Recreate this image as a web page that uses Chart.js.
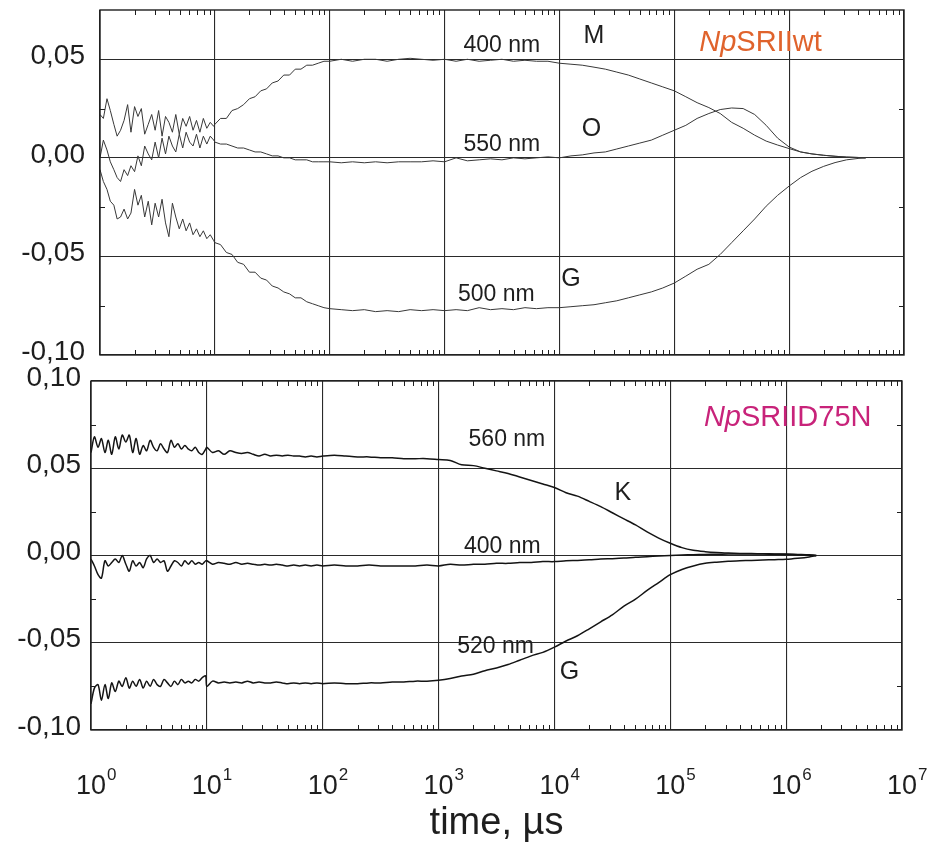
<!DOCTYPE html>
<html>
<head>
<meta charset="utf-8">
<script src="https://cdn.jsdelivr.net/npm/chart.js@4.4.1/dist/chart.umd.min.js"></script>
<style>
  html, body { margin: 0; padding: 0; background: #fff; }
  #wrap { position: relative; width: 929px; height: 843px; overflow: hidden; }
  canvas { position: absolute; left: 0; }
  #cTop { top: 0; }
  #cBot { top: 365px; }
</style>
</head>
<body>
<div id="wrap">
  <canvas id="cTop" width="929" height="365"></canvas>
  <canvas id="cBot" width="929" height="478"></canvas>
</div>
<script>
// Flash-photolysis transients, time in microseconds (log scale)
const timeTop = [1.00,1.07,1.15,1.23,1.32,1.41,1.51,1.62,1.74,1.86,2.00,2.14,2.29,2.45,2.63,2.82,3.02,3.24,3.47,3.72,3.98,4.27,4.57,4.90,5.25,5.62,6.03,6.46,6.92,7.41,7.94,8.51,9.12,9.77,
  10.0,11.2,12.6,14.1,15.8,17.8,20.0,22.4,25.1,28.2,31.6,35.5,39.8,44.7,50.1,56.2,63.1,70.8,79.4,89.1,
  100,126,158,200,251,316,398,501,631,794,1000,1260,1580,2000,2510,3160,3980,5010,6310,7940,
  1e4,1.26e4,1.58e4,2e4,2.51e4,3.16e4,3.98e4,5.01e4,6.31e4,7.94e4,
  1e5,1.26e5,1.58e5,2e5,2.51e5,3.16e5,3.98e5,5.01e5,6.31e5,7.94e5,
  1e6,1.26e6,1.58e6,2e6,2.51e6,3.16e6,3.98e6,4.64e6];

const timeBottom = [1.00,1.07,1.15,1.23,1.32,1.41,1.51,1.62,1.74,1.86,2.00,2.14,2.29,2.45,2.63,2.82,3.02,3.24,3.47,3.72,3.98,4.27,4.57,4.90,5.25,5.62,6.03,6.46,6.92,7.41,7.94,8.51,9.12,9.77,
  10.0,11.2,12.6,14.1,15.8,17.8,20.0,22.4,25.1,28.2,31.6,35.5,39.8,44.7,50.1,56.2,63.1,70.8,79.4,89.1,
  100,126,158,200,251,316,398,501,631,794,1000,1260,1580,2000,2510,3160,3980,5010,6310,7940,
  1e4,1.26e4,1.58e4,2e4,2.51e4,3.16e4,3.98e4,5.01e4,6.31e4,7.94e4,
  1e5,1.26e5,1.58e5,2e5,2.51e5,3.16e5,3.98e5,5.01e5,6.31e5,7.94e5,
  1e6,1.26e6,1.58e6,1.82e6];

// NpSRII wild type
const wt400 = [0.022,0.020,0.030,0.024,0.017,0.011,0.014,0.019,0.027,0.013,0.026,0.021,0.025,0.012,0.017,0.022,0.014,0.024,0.011,0.021,0.018,0.013,0.022,0.012,0.020,0.016,0.021,0.014,0.019,0.013,0.020,0.015,0.018,0.016,
  0.017,0.020,0.020,0.024,0.025,0.027,0.030,0.031,0.034,0.035,0.038,0.039,0.042,0.042,0.045,0.045,0.047,0.047,0.048,0.049,
  0.049,0.050,0.049,0.050,0.050,0.049,0.050,0.0505,0.050,0.0495,
  0.050,0.049,0.050,0.049,0.0495,0.050,0.049,0.0495,0.049,0.049,
  0.048,0.0475,0.047,0.046,0.045,0.0435,0.042,0.040,0.038,0.036,
  0.034,0.031,0.028,0.0255,0.0225,0.018,0.015,0.0115,0.0085,0.0065,
  0.0047,0.003,0.002,0.0013,0.0008,0.0004,0.0002,0];

const wt550 = [0.000,0.009,0.004,-0.002,-0.006,-0.010,-0.012,-0.006,-0.009,-0.004,-0.007,0.001,-0.004,0.006,0.002,-0.001,0.008,0.000,0.010,0.002,0.011,0.006,0.003,0.012,0.005,0.013,0.008,0.006,0.012,0.005,0.011,0.007,0.011,0.009,
  0.008,0.007,0.007,0.006,0.005,0.005,0.004,0.003,0.003,0.002,0.001,0.001,0.000,0.000,-0.001,-0.001,-0.001,-0.002,-0.002,-0.002,
  -0.002,-0.0025,-0.002,-0.0025,-0.002,-0.0025,-0.002,-0.002,-0.002,-0.0015,
  -0.002,0.000,-0.0015,-0.001,-0.0005,-0.001,0.000,-0.0005,0.000,0.0005,
  0.000,0.001,0.0015,0.0025,0.003,0.0045,0.006,0.0075,0.009,0.0115,
  0.014,0.0165,0.020,0.0225,0.0245,0.0253,0.025,0.022,0.0165,0.010,
  0.0055,0.003,0.002,0.0013,0.0008,0.0004,0.0002,0];

const wt500 = [-0.006,-0.012,-0.016,-0.022,-0.024,-0.031,-0.030,-0.026,-0.031,-0.028,-0.016,-0.024,-0.019,-0.030,-0.022,-0.034,-0.023,-0.030,-0.021,-0.033,-0.040,-0.023,-0.030,-0.036,-0.031,-0.037,-0.033,-0.039,-0.036,-0.040,-0.037,-0.041,-0.039,-0.042,
  -0.043,-0.044,-0.048,-0.049,-0.053,-0.054,-0.058,-0.058,-0.061,-0.062,-0.065,-0.066,-0.068,-0.069,-0.071,-0.071,-0.073,-0.074,-0.075,-0.076,
  -0.0765,-0.077,-0.0775,-0.077,-0.078,-0.0775,-0.078,-0.077,-0.0775,-0.077,
  -0.0775,-0.077,-0.0775,-0.076,-0.077,-0.0765,-0.077,-0.076,-0.0765,-0.076,
  -0.076,-0.0755,-0.075,-0.0745,-0.0735,-0.0725,-0.071,-0.0695,-0.068,-0.066,
  -0.0635,-0.060,-0.0565,-0.054,-0.049,-0.043,-0.037,-0.031,-0.0245,-0.019,
  -0.0143,-0.010,-0.0068,-0.0043,-0.0024,-0.001,-0.0003,0];

// NpSRII D75N mutant
const d75n560 = [0.059,0.068,0.062,0.067,0.059,0.066,0.058,0.068,0.061,0.069,0.065,0.069,0.059,0.067,0.058,0.063,0.060,0.066,0.062,0.060,0.064,0.061,0.059,0.066,0.062,0.064,0.061,0.063,0.061,0.060,0.062,0.059,0.058,0.061,
  0.062,0.059,0.060,0.058,0.060,0.059,0.0585,0.059,0.058,0.057,0.058,0.057,0.0575,0.057,0.0575,0.057,0.057,0.0565,0.057,0.0565,
  0.057,0.0575,0.057,0.0565,0.0565,0.056,0.056,0.0555,0.0555,0.0555,
  0.055,0.0545,0.052,0.0515,0.050,0.0485,0.047,0.045,0.043,0.041,
  0.039,0.036,0.034,0.031,0.028,0.0245,0.021,0.0175,0.0135,0.010,
  0.007,0.0045,0.003,0.0022,0.0017,0.0014,0.0012,0.0011,0.001,0.0009,
  0.0008,0.0006,0.0004,0];

const d75n400 = [-0.002,-0.006,-0.011,-0.013,-0.003,-0.006,-0.004,-0.002,-0.004,0.000,-0.005,-0.009,-0.003,-0.006,-0.004,-0.007,-0.002,0.000,-0.004,-0.002,-0.004,-0.003,-0.009,-0.006,-0.003,-0.004,-0.006,-0.003,-0.005,-0.003,-0.005,-0.004,-0.005,-0.003,
  -0.003,-0.005,-0.004,-0.0045,-0.005,-0.004,-0.005,-0.0045,-0.005,-0.0055,-0.005,-0.0055,-0.005,-0.0055,-0.006,-0.0055,-0.006,-0.0055,-0.006,-0.0055,
  -0.006,-0.0055,-0.006,-0.006,-0.0055,-0.006,-0.006,-0.006,-0.006,-0.0055,
  -0.006,-0.005,-0.0055,-0.005,-0.005,-0.0045,-0.0045,-0.004,-0.004,-0.0035,
  -0.0035,-0.003,-0.0028,-0.0025,-0.002,-0.0018,-0.0015,-0.001,-0.0007,-0.0003,
  0.000,0.0003,0.0005,0.0006,0.0007,0.0008,0.0008,0.0008,0.0008,0.0007,
  0.0006,0.0005,0.0003,0];

const d75n520 = [-0.085,-0.076,-0.074,-0.083,-0.074,-0.082,-0.073,-0.078,-0.072,-0.075,-0.070,-0.076,-0.072,-0.075,-0.071,-0.076,-0.072,-0.075,-0.071,-0.074,-0.075,-0.071,-0.073,-0.075,-0.072,-0.074,-0.071,-0.073,-0.072,-0.073,-0.071,-0.072,-0.070,-0.069,
  -0.075,-0.072,-0.073,-0.0725,-0.073,-0.0725,-0.073,-0.072,-0.073,-0.0725,-0.073,-0.073,-0.0725,-0.073,-0.0735,-0.073,-0.0735,-0.073,-0.0735,-0.073,
  -0.0735,-0.073,-0.0735,-0.0735,-0.073,-0.073,-0.0725,-0.0725,-0.072,-0.072,
  -0.0715,-0.0705,-0.069,-0.068,-0.066,-0.0645,-0.0625,-0.060,-0.0575,-0.0555,
  -0.0525,-0.049,-0.046,-0.042,-0.038,-0.034,-0.029,-0.025,-0.020,-0.0155,
  -0.011,-0.008,-0.006,-0.0045,-0.0038,-0.0033,-0.003,-0.0028,-0.0026,-0.0024,
  -0.0022,-0.0016,-0.0008,0];

const decadeTicks = [1, 10, 100, 1000, 1e4, 1e5, 1e6, 1e7];
const yTicksTop = [-0.10, -0.05, 0.00, 0.05];
const yTicksBottom = [-0.10, -0.05, 0.00, 0.05, 0.10];

// Text placed inside the panels, anchored in data coordinates
const notesTop = [
  { text: '400 nm', t: 3150, v: 0.0569, size: 23 },
  { text: 'M', t: 2.0e4, v: 0.062, size: 25 },
  { text: 'O', t: 1.9e4, v: 0.0147, size: 25 },
  { text: '550 nm', t: 3150, v: 0.0067, size: 23 },
  { text: 'G', t: 1.26e4, v: -0.0613, size: 25 },
  { text: '500 nm', t: 2820, v: -0.0693, size: 23 }
];
const notesBottom = [
  { text: '560 nm', t: 3890, v: 0.0665, size: 23 },
  { text: 'K', t: 3.9e4, v: 0.0355, size: 25 },
  { text: '400 nm', t: 3550, v: 0.0053, size: 23 },
  { text: '520 nm', t: 3100, v: -0.0522, size: 23 },
  { text: 'G', t: 1.35e4, v: -0.0668, size: 25 }
];
const sampleTop = { italic: 'Np', plain: 'SRIIwt', t: 1.65e5, v: 0.0584, color: '#e0632c' };
const sampleBottom = { italic: 'Np', plain: 'SRIID75N', t: 1.95e5, v: 0.0786, color: '#c8237a' };

const FONT = '"Liberation Sans", Arial, Helvetica, sans-serif';
const INK = '#1e1e1e';

function series(times, values) {
  return values.map((v, i) => ({ x: times[i], y: v }));
}

// Frame, inward minor ticks, and in-panel text
const panelDecor = {
  id: 'panelDecor',
  afterDraw(chart, args, opts) {
    const { ctx, chartArea: a, scales: { x, y } } = chart;
    ctx.save();
    ctx.strokeStyle = INK;
    ctx.lineWidth = 1;
    ctx.beginPath();
    for (let d = 0; d < 7; d++) {
      for (let m = 2; m <= 9; m++) {
        const px = Math.round(x.getPixelForValue(m * Math.pow(10, d))) + 0.5;
        ctx.moveTo(px, a.top); ctx.lineTo(px, a.top + 5);
        ctx.moveTo(px, a.bottom); ctx.lineTo(px, a.bottom - 5);
      }
    }
    for (let v = y.min + 0.025; v < y.max - 1e-9; v += 0.05) {
      const py = Math.round(y.getPixelForValue(v)) + 0.5;
      ctx.moveTo(a.left, py); ctx.lineTo(a.left + 5, py);
      ctx.moveTo(a.right, py); ctx.lineTo(a.right - 5, py);
    }
    ctx.stroke();
    ctx.lineWidth = 1.4;
    ctx.strokeRect(a.left, a.top, a.right - a.left, a.bottom - a.top);

    ctx.fillStyle = INK;
    ctx.textAlign = 'center';
    ctx.textBaseline = 'middle';
    for (const n of opts.notes) {
      ctx.font = n.size + 'px ' + FONT;
      ctx.fillText(n.text, x.getPixelForValue(n.t), y.getPixelForValue(n.v));
    }
    const s = opts.sample;
    ctx.textAlign = 'left';
    ctx.fillStyle = s.color;
    let sx = x.getPixelForValue(s.t);
    const sy = y.getPixelForValue(s.v);
    ctx.font = 'italic 29px ' + FONT;
    ctx.fillText(s.italic, sx, sy);
    sx += ctx.measureText(s.italic).width;
    ctx.font = '29px ' + FONT;
    ctx.fillText(s.plain, sx, sy);
    ctx.restore();
  }
};

// Decade labels 10^n under the lower panel
const decadeLabels = {
  id: 'decadeLabels',
  afterDraw(chart) {
    if (!chart.options.plugins.decadeLabels.show) return;
    const { ctx, chartArea: a, scales: { x } } = chart;
    ctx.save();
    ctx.fillStyle = INK;
    ctx.textBaseline = 'alphabetic';
    decadeTicks.forEach(t => {
      const px = x.getPixelForValue(t);
      const exp = String(Math.round(Math.log10(t)));
      ctx.font = '27px ' + FONT;
      const w = ctx.measureText('10').width;
      ctx.textAlign = 'center';
      ctx.fillText('10', px, a.bottom + 64);
      ctx.font = '17px ' + FONT;
      ctx.textAlign = 'left';
      ctx.fillText(exp, px + w / 2 + 1, a.bottom + 50);
    });
    ctx.restore();
  }
};

function fmt(v) {
  return v.toFixed(2).replace('.', ',');
}

function makeChart(id, o) {
  return new Chart(document.getElementById(id), {
    type: 'line',
    data: {
      datasets: o.sets.map(d => ({
        data: series(o.times, d),
        borderColor: o.lineColor,
        borderWidth: o.lineWidth,
        pointRadius: 0,
        tension: o.tension,
        fill: false
      }))
    },
    options: {
      responsive: false,
      animation: false,
      events: [],
      layout: { padding: o.padding },
      plugins: {
        legend: { display: false },
        tooltip: { enabled: false },
        panelDecor: { notes: o.notes, sample: o.sample },
        decadeLabels: { show: o.showDecades }
      },
      scales: {
        x: {
          type: 'logarithmic',
          min: 1, max: 1e7,
          afterBuildTicks: s => { s.ticks = decadeTicks.map(v => ({ value: v })); },
          afterFit: s => { s.height = o.xHeight; s.paddingLeft = 0; s.paddingRight = 0; },
          ticks: { display: false },
          border: { display: false },
          grid: { color: '#2a2a2a', lineWidth: 1.1, drawTicks: false },
          title: {
            display: o.showDecades,
            text: 'time, µs',
            color: INK,
            font: { family: FONT, size: 38 },
            padding: { top: 0, bottom: -3 }
          }
        },
        y: {
          min: -0.10, max: o.yMax,
          afterBuildTicks: s => { s.ticks = o.yTicks.map(v => ({ value: v })); },
          afterFit: s => { s.width = o.yWidth; s.paddingTop = 0; s.paddingBottom = 0; },
          border: { display: false },
          grid: { color: '#2a2a2a', lineWidth: 1.1, drawTicks: false },
          ticks: {
            color: INK,
            padding: o.yPad,
            labelOffset: -3,
            font: { family: FONT, size: 28 },
            callback: v => fmt(v)
          }
        }
      }
    },
    plugins: [panelDecor, decadeLabels]
  });
}

makeChart('cTop', {
  times: timeTop,
  sets: [wt400, wt550, wt500],
  lineColor: '#383838', lineWidth: 1, tension: 0,
  padding: { top: 10, right: 25, left: 0, bottom: 0 },
  xHeight: 10, yWidth: 100, yPad: 15, yMax: 0.075,
  yTicks: yTicksTop, notes: notesTop, sample: sampleTop, showDecades: false
});

makeChart('cBot', {
  times: timeBottom,
  sets: [d75n560, d75n400, d75n520],
  lineColor: '#141414', lineWidth: 1.5, tension: 0.3,
  padding: { top: 16, right: 27, left: 0, bottom: 0 },
  xHeight: 113, yWidth: 91, yPad: 10, yMax: 0.10,
  yTicks: yTicksBottom, notes: notesBottom, sample: sampleBottom, showDecades: true
});
</script>
</body>
</html>
